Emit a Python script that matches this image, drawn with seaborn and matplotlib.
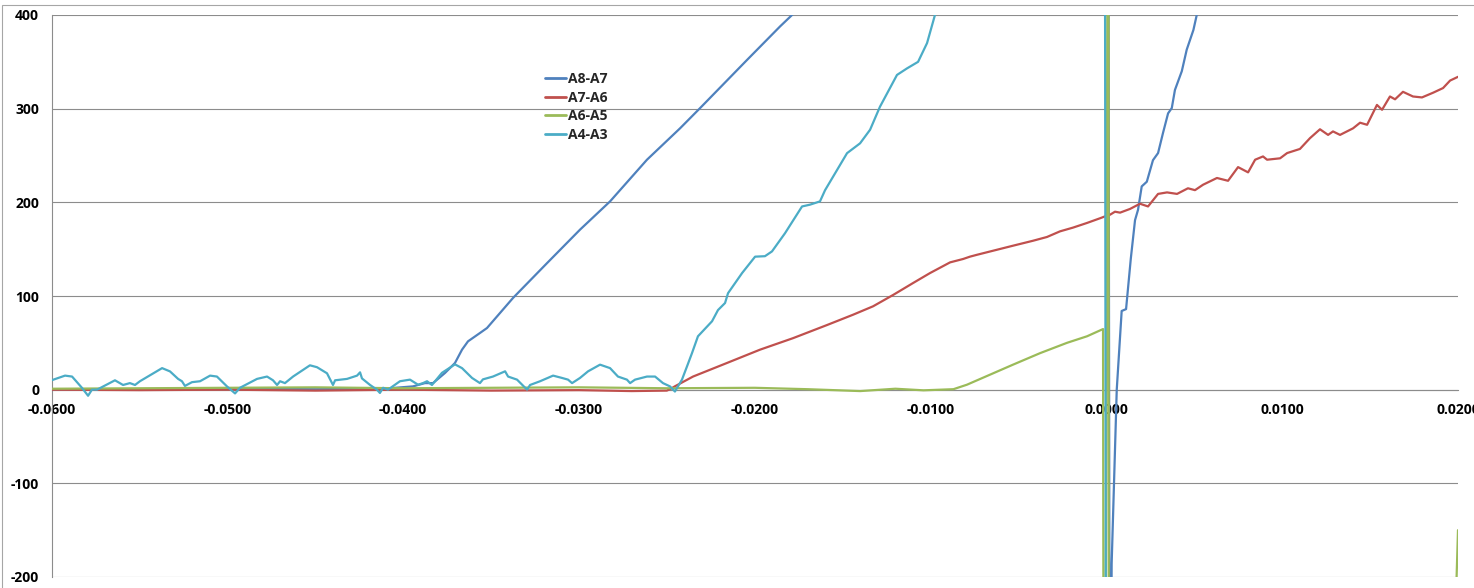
import matplotlib
matplotlib.use("Agg")
import matplotlib.pyplot as plt
from matplotlib.patches import Rectangle
import seaborn as sns

# ---- series data -------------------------------------------------------
a8a7_x = [-0.0600, -0.0550, -0.0500, -0.0450, -0.0410, -0.04058, -0.03944, -0.03876,
          -0.03830, -0.03762, -0.03705, -0.03665, -0.03631, -0.03563, -0.03523, -0.03375,
          -0.03182, -0.02994, -0.02823, -0.02613, -0.02425, -0.02311, -0.02044, -0.01856,
          -0.01788, -0.0150, -0.0100, -0.0050, 0.00010, 0.00020, 0.00030, 0.00059, 0.00087,
          0.00112, 0.00139, 0.00163, 0.00180, 0.00201, 0.00230, 0.00265, 0.00294, 0.00322,
          0.00351, 0.00372, 0.00390, 0.00429, 0.00457, 0.00495, 0.00514, 0.0070, 0.0100,
          0.0200]
a8a7_y = [0.5, 0.5, 1.0, 0.5, 1.0, 1.8, 3.5, 7.0,
          7.0, 17.8, 28.5, 42.7, 51.6, 60.5, 65.8, 97.9,
          135.0, 170.8, 201.0, 245.5, 279.0, 300.6, 352.0, 387.8,
          400.0, 455.0, 550.0, 640.0, 740.0, -600.0, -186.0, 0.0, 84.0,
          86.0, 140.0, 181.0, 192.0, 217.0, 222.0, 245.0, 252.6, 274.0,
          295.0, 300.6, 320.0, 340.0, 363.0, 384.0, 400.0, 520.0, 700.0,
          1300.0]

a7a6_x = [-0.0600, -0.0550, -0.0500, -0.0450, -0.0400, -0.0350, -0.0300, -0.0270,
          -0.0250, -0.02482, -0.02454, -0.02351, -0.02158, -0.01970, -0.01782, -0.01589,
          -0.01441, -0.01327, -0.01214, -0.01100, -0.01003, -0.00889, -0.00815, -0.00776,
          -0.00736, -0.00622, -0.00531, -0.00417, -0.00338, -0.00264, -0.00190, -0.00110,
          -0.00036, -0.00008, 0.00021, 0.00049, 0.00078, 0.00135, 0.00191, 0.00237,
          0.00294, 0.00345, 0.00402, 0.00464, 0.00504, 0.00550, 0.00629, 0.00692,
          0.00749, 0.00806, 0.00846, 0.00891, 0.00914, 0.00988, 0.01028, 0.01101,
          0.01158, 0.01215, 0.01261, 0.01289, 0.01329, 0.01403, 0.01443, 0.01483,
          0.01539, 0.01568, 0.01613, 0.01642, 0.01687, 0.01744, 0.01795, 0.01858,
          0.01915, 0.01955, 0.02000]
a7a6_y = [0.0, -0.5, 0.0, -1.0, 0.0, -1.0, -0.5, -1.5,
          -1.0, 0.5, 3.6, 14.0, 28.5, 42.7, 55.0, 69.0,
          80.0, 89.0, 101.0, 113.8, 124.5, 135.9, 139.5, 142.0,
          144.0, 149.4, 153.7, 159.0, 163.0, 169.0, 173.0, 178.0,
          183.0, 185.0, 186.8, 190.0, 189.0, 193.0, 198.5, 195.6,
          209.0, 210.6, 209.0, 215.0, 213.0, 218.8, 226.0, 223.0,
          237.6, 232.0, 245.5, 249.0, 245.5, 247.0, 252.6, 257.0,
          268.5, 278.0, 272.0, 275.7, 272.0, 279.0, 285.0, 282.8,
          304.0, 298.8, 313.0, 310.0, 318.0, 313.0, 312.0, 317.0,
          322.0, 330.0, 334.0]

a6a5_x = [-0.0600, -0.0550, -0.0500, -0.0450, -0.0400, -0.0350, -0.0300, -0.0250,
          -0.0200, -0.0170, -0.0140, -0.0120, -0.0104, -0.0087, -0.00793, -0.00662,
          -0.00531, -0.00377, -0.00224, -0.00110, -0.00019, -0.00012, 0.00012, 0.00014,
          0.0195, 0.0196, 0.0200]
a6a5_y = [1.0, 1.5, 2.0, 2.5, 1.5, 2.0, 2.5, 1.5,
          2.0, 0.5, -1.5, 1.0, -0.7, 0.5, 5.3, 16.0,
          26.7, 39.0, 50.0, 57.0, 64.7, -900.0, 900.0, -900.0,
          -900.0, -400.0, -150.0]

a4a3_x = [-0.06000, -0.05923, -0.05883, -0.05827, -0.05792, -0.05770, -0.05741, -0.05639,
          -0.05593, -0.05554, -0.05525, -0.05497, -0.05371, -0.05326, -0.05280, -0.05258,
          -0.05241, -0.05201, -0.05155, -0.05098, -0.05059, -0.05002, -0.04956, -0.04928,
          -0.04831, -0.04774, -0.04740, -0.04717, -0.04700, -0.04672, -0.04626, -0.04530,
          -0.04490, -0.04433, -0.04399, -0.04387, -0.04319, -0.04262, -0.04245, -0.04234,
          -0.04188, -0.04149, -0.04132, -0.04114, -0.04086, -0.04018, -0.03961, -0.03915,
          -0.03887, -0.03864, -0.03836, -0.03779, -0.03705, -0.03665, -0.03608, -0.03563,
          -0.03546, -0.03489, -0.03420, -0.03403, -0.03352, -0.03295, -0.03278, -0.03221,
          -0.03147, -0.03096, -0.03062, -0.03039, -0.02994, -0.02948, -0.02880, -0.02823,
          -0.02778, -0.02727, -0.02709, -0.02681, -0.02613, -0.02567, -0.02522, -0.02482,
          -0.02454, -0.02414, -0.02385, -0.02357, -0.02323, -0.02243, -0.02209, -0.02169,
          -0.02152, -0.02072, -0.01998, -0.01942, -0.01902, -0.01828, -0.01731, -0.01686,
          -0.01629, -0.01600, -0.01475, -0.01401, -0.01344, -0.01288, -0.01191, -0.01134,
          -0.01071, -0.01020, -0.00975, -0.0090, -0.0050, -0.00010, 0.00001, 0.0200]
a4a3_y = [10.0, 15.0, 14.0, 2.0, -6.5, 0.0, 0.0, 10.0,
          5.0, 7.0, 5.0, 9.0, 23.0, 19.5, 11.5, 9.0,
          4.0, 8.0, 9.0, 15.0, 14.0, 3.5, -4.0, 2.0,
          11.5, 14.0, 10.0, 5.0, 9.0, 7.0, 14.0, 26.0,
          24.0, 17.5, 5.0, 10.0, 11.5, 15.0, 18.5, 12.0,
          5.0, 0.0, -3.5, 2.0, 0.0, 9.0, 10.7, 5.3,
          7.0, 9.0, 5.0, 18.0, 27.0, 23.0, 12.5, 7.0,
          11.0, 14.0, 19.6, 14.0, 10.7, 0.0, 5.0, 9.0,
          15.0, 12.5, 10.7, 7.0, 12.5, 19.6, 26.7, 23.0,
          14.0, 10.7, 7.0, 10.7, 14.0, 14.0, 7.0, 3.5,
          -2.0, 10.7, 25.0, 39.0, 57.0, 73.0, 85.0, 92.5,
          103.0, 124.5, 142.0, 142.5, 147.6, 167.0, 195.6, 197.5,
          201.0, 213.0, 252.5, 263.0, 277.5, 302.0, 336.0, 343.0,
          350.0, 370.0, 400.0, 450.0, 620.0, 800.0, -900.0, -900.0]

series = [
    ("A8-A7", a8a7_x, a8a7_y, "#4F81BD"),
    ("A7-A6", a7a6_x, a7a6_y, "#C0504D"),
    ("A6-A5", a6a5_x, a6a5_y, "#9BBB59"),
    ("A4-A3", a4a3_x, a4a3_y, "#4BACC6"),
]

x_ticks = [-0.06, -0.05, -0.04, -0.03, -0.02, -0.01, 0.0, 0.01, 0.02]
x_tick_labels = ["-0.0600", "-0.0500", "-0.0400", "-0.0300", "-0.0200",
                 "-0.0100", "0.0000", "0.0100", "0.0200"]
y_ticks = [-200, -100, 0, 100, 200, 300, 400]
y_tick_labels = ["-200", "-100", "0", "100", "200", "300", "400"]

# ---- styling -----------------------------------------------------------
sns.set_style("white")
plt.rcParams["font.family"] = ["Open Sans", "DejaVu Sans"]
plt.rcParams["font.weight"] = "bold"

W, H, DPI = 1474, 588, 100
fig = plt.figure(figsize=(W / DPI, H / DPI), dpi=DPI)
ax_left, ax_right, ax_top, ax_bottom = 51.5, 1458.0, 15.0, 577.0
ax = fig.add_axes([ax_left / W, (H - ax_bottom) / H,
                   (ax_right - ax_left) / W, (ax_bottom - ax_top) / H])

grid_col = "#8C8C8C"
for yv in y_ticks:
    ax.axhline(yv, color=grid_col, lw=0.8, zorder=0.5)

for name, xs, ys, col in series:
    sns.lineplot(x=xs, y=ys, ax=ax, color=col, lw=1.6, label=name,
                 estimator=None, sort=False, zorder=3)

ax.set_xlim(-0.06, 0.02)
ax.set_ylim(-200, 400)

ax.spines["top"].set_visible(False)
ax.spines["right"].set_visible(False)
ax.spines["left"].set_color(grid_col)
ax.spines["left"].set_linewidth(0.8)
ax.spines["bottom"].set_position(("data", 0))
ax.spines["bottom"].set_color(grid_col)
ax.spines["bottom"].set_linewidth(0.8)
ax.spines["bottom"].set_zorder(1)
ax.spines["left"].set_zorder(1)

ax.set_xticks(x_ticks)
ax.set_xticklabels(x_tick_labels)
ax.set_yticks(y_ticks)
ax.set_yticklabels(y_tick_labels)
ax.tick_params(axis="x", direction="out", length=3.6, width=0.8, color=grid_col,
               pad=6, labelsize=10, labelcolor="black")
ax.tick_params(axis="y", direction="out", length=5, width=0.8, color=grid_col,
               pad=4, labelsize=10, labelcolor="black")
for lab in ax.get_xticklabels() + ax.get_yticklabels():
    lab.set_fontweight("bold")
ax.set_xlabel("")
ax.set_ylabel("")

leg = ax.legend(loc="upper left",
                bbox_to_anchor=((545 - ax_left) / (ax_right - ax_left),
                                (ax_bottom - 72) / (ax_bottom - ax_top)),
                frameon=False, fontsize=10, handlelength=1.5, handletextpad=0.12,
                labelspacing=0.33, borderpad=0, borderaxespad=0)
for t in leg.get_texts():
    t.set_fontweight("bold")
for h in leg.legend_handles:
    h.set_linewidth(2.0)

# outer chart border
fig.patches.append(Rectangle((2 / W, -0.1), 1.5, (H - 5) / H + 0.1,
                             transform=fig.transFigure, fill=False,
                             edgecolor="#A6A6A6", lw=0.8))

fig.savefig("out.png", dpi=DPI)
